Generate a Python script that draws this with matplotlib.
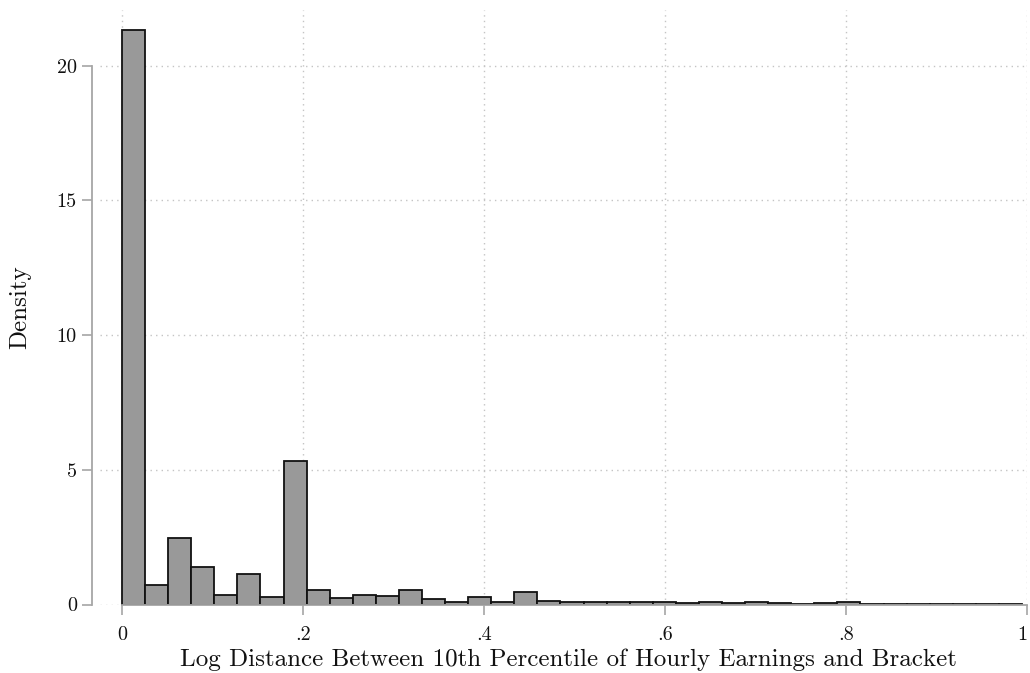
import numpy as np
import matplotlib
matplotlib.use("Agg")
import matplotlib.pyplot as plt

# Histogram of log distance (density scale), 39 equal-width bins starting at 0
bin_width = 0.0255
density = [21.34, 0.74, 2.46, 1.41, 0.37, 1.12, 0.29, 5.31, 0.52, 0.24,
           0.37, 0.30, 0.53, 0.20, 0.10, 0.28, 0.10, 0.47, 0.14, 0.11,
           0.075, 0.11, 0.075, 0.11, 0.04, 0.075, 0.06, 0.11, 0.05, 0.03,
           0.06, 0.085, 0.02, 0.02, 0.03, 0.02, 0.02, 0.03, 0.03]
x_ticks = [0, 0.2, 0.4, 0.6, 0.8, 1.0]
x_tick_labels = ["0", ".2", ".4", ".6", ".8", "1"]
y_ticks = [0, 5, 10, 15, 20]
y_tick_labels = ["0", "5", "10", "15", "20"]

plt.rcParams["font.family"] = ["cmr10", "DejaVu Serif"]
plt.rcParams["axes.formatter.use_mathtext"] = True

fig = plt.figure(figsize=(10.30, 6.73), dpi=100)
ax = fig.add_axes([100 / 1030, 68.5 / 673, 927 / 1030, 594.5 / 673])

lefts = np.arange(len(density)) * bin_width
ax.bar(lefts, density, width=bin_width, align="edge",
       color="#999999", edgecolor="#111111", linewidth=1.3, zorder=3)

ax.set_xlim(-22 / 905, 1.0)
ax.set_ylim(0, 594.5 / 26.94)

axis_grey = "#a6a6a6"
ax.set_xticks(x_ticks)
ax.set_xticklabels(x_tick_labels)
ax.set_yticks(y_ticks)
ax.set_yticklabels(y_tick_labels)

ax.grid(True, linestyle=(0, (1, 3)), color="#c4c4c4", linewidth=1.0, zorder=0)

for side in ("top", "right"):
    ax.spines[side].set_visible(False)
ax.spines["left"].set_position(("outward", 6))
ax.spines["left"].set_bounds(0, 20)
ax.spines["bottom"].set_bounds(0, 1)
for side in ("left", "bottom"):
    ax.spines[side].set_color(axis_grey)
    ax.spines[side].set_linewidth(1.3)
    ax.spines[side].set_zorder(4)

ax.tick_params(axis="both", direction="out", length=7.2, width=1.2,
               color=axis_grey, labelsize=14.5, labelcolor="#111111")
ax.tick_params(axis="x", pad=8)
ax.tick_params(axis="y", pad=3.5)

# keep the last x tick label inside the figure edge
ax.get_xticklabels()[-1].set_horizontalalignment("right")

ax.set_ylabel("Density", fontsize=18, color="#111111")
ax.yaxis.set_label_coords(-69 / 927, 0.5)
ax.set_xlabel("Log Distance Between 10th Percentile of Hourly Earnings and Bracket",
              fontsize=18, color="#111111")
ax.xaxis.set_label_coords(0.505, -44 / 594.5)

fig.savefig("out.png", dpi=100, facecolor="white")
